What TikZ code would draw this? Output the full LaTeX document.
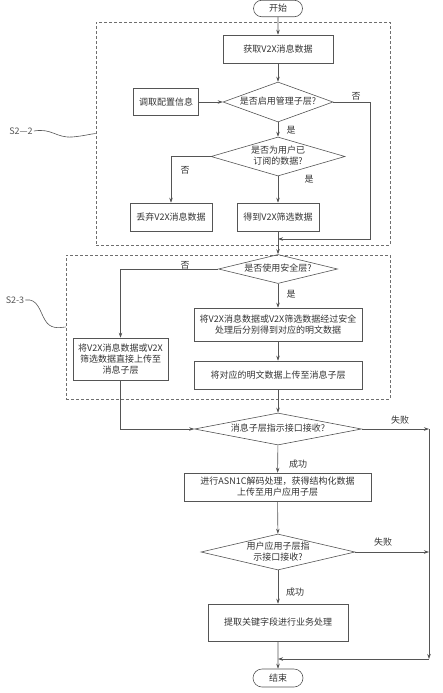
\documentclass[tikz,border=0pt]{standalone}
\usepackage{fontspec}
\setmainfont{Noto Sans CJK SC}
\usetikzlibrary{shapes.geometric,shapes.misc,arrows.meta}
\definecolor{lc}{HTML}{555555}
\definecolor{tc}{HTML}{333333}
\newcommand{\dtxt}[1]{\raisebox{-0.3em}[0pt][0pt]{\makebox[0pt]{\renewcommand{\arraystretch}{0.95}\begin{tabular}{@{}c@{}}#1\end{tabular}}}}
\begin{document}
\begin{tikzpicture}[x=1pt,y=-1pt,font=\fontsize{9}{11}\selectfont,text=tc,
  box/.style={draw=lc,line width=0.6pt,rectangle,inner sep=0pt,align=center},
  dec/.style={draw=lc,line width=0.6pt,diamond,inner sep=0pt,aspect=1},
  term/.style={draw=lc,line width=0.6pt,rounded rectangle,inner sep=0pt},
  arr/.style={draw=lc,line width=0.6pt,-{Stealth[length=5pt,width=3.5pt]}},
  conn/.style={draw=lc,line width=0.6pt},
  lab/.style={inner sep=1pt},
  grp/.style={draw=lc!85,line width=0.6pt,dash pattern=on 3pt off 2pt,rectangle,inner sep=0pt}]
\useasboundingbox (0,0) rectangle (443,693);
% groups
\node[grp,minimum width=294pt,minimum height=223pt] (g1) at (243,133.5) {};
\node[grp,minimum width=324pt,minimum height=144pt] (g2) at (228,327) {};
\node[lab,text=lc] (s22) at (21,131) {S2—2};
\node[lab,text=lc] (s23) at (15,300) {S2-3};
\draw[conn] (s22.east) .. controls (52,128) and (56,138) .. (72,137) .. controls (84,136) and (90,134) .. (g1.west);
\draw[conn] (s23.east) .. controls (38,298) and (40,312) .. (45,320) .. controls (50,329) and (58,328) .. (g2.west);
% nodes
\node[term,minimum width=49pt,minimum height=16.5pt] (start) at (278,8.5) {开始};
\node[box,minimum width=110pt,minimum height=28pt] (get) at (278,49) {获取V2X消息数据};
\node[dec,minimum width=110pt,minimum height=40pt] (d1) at (278,102) {\dtxt{是否启用管理子层?}};
\node[box,minimum width=65pt,minimum height=27pt] (cfg) at (166,102) {调取配置信息};
\node[dec,minimum width=134pt,minimum height=39pt] (d2) at (278,156.5) {\dtxt{是否为用户已\\订阅的数据?}};
\node[box,minimum width=82pt,minimum height=28pt] (drop) at (171,217) {丢弃V2X消息数据};
\node[box,minimum width=82pt,minimum height=28pt] (filt) at (278,217) {得到V2X筛选数据};
\node[dec,minimum width=119pt,minimum height=29pt] (d3) at (278,269) {\dtxt{是否使用安全层?}};
\node[box,minimum width=168pt,minimum height=33pt] (sec) at (278,324.5) {将V2X消息数据或V2X筛选数据经过安全\\处理后分别得到对应的明文数据};
\node[box,minimum width=168pt,minimum height=28pt] (up) at (278,375) {将对应的明文数据上传至消息子层};
\node[box,minimum width=95pt,minimum height=42pt] (direct) at (120.5,359) {将V2X消息数据或V2X\\筛选数据直接上传至\\消息子层};
\node[dec,minimum width=167pt,minimum height=32pt] (d4) at (278,429) {\dtxt{消息子层指示接口接收?}};
\node[box,minimum width=187pt,minimum height=28pt] (asn) at (277.5,487) {进行ASN1C解码处理，获得结构化数据\\上传至用户应用子层};
\node[dec,minimum width=154pt,minimum height=36pt] (d5) at (278,552) {\dtxt{用户应用子层指\\示接口接收?}};
\node[box,minimum width=140pt,minimum height=37pt] (key) at (278,622.5) {提取关键字段进行业务处理};
\node[term,minimum width=50pt,minimum height=18pt] (end) at (278,678) {结束};
% coordinates
\coordinate (r1) at (370,239);
\coordinate (j1) at (278,239);
\coordinate (r2) at (429,429);
\coordinate (r5) at (429,552);
\coordinate (r3) at (429,659);
\coordinate (j2) at (278,659);
% connectors
\draw[arr] (start) -- (get);
\draw[arr] (get) -- (d1);
\draw[arr] (cfg) -- (d1);
\draw[arr] (d1) -- (d2);
\draw[arr] (d2.west) -| (drop.north);
\draw[arr] (d2) -- (filt);
\draw[arr] (d1.east) -| (r1) -- (j1);
\draw[arr] (filt) -- (d3);
\draw[arr] (d3.west) -| (direct.north);
\draw[arr] (d3) -- (sec);
\draw[arr] (sec) -- (up);
\draw[arr] (up) -- (d4);
\draw[arr] (direct.south) |- (d4.west);
\draw[arr] (d4.east) -- (r2);
\draw[arr] (r2) -- (r3);
\draw[arr] (d5.east) -- (r5);
\draw[arr] (r3) -- (j2);
\draw[arr] (d4) -- (asn);
\draw[arr] (asn) -- (d5);
\draw[arr] (d5) -- (key);
\draw[arr] (key) -- (end);
% labels
\node[lab] (l1) at (356,96) {否};
\node[lab] (l2) at (291,130) {是};
\node[lab] (l3) at (185,170) {否};
\node[lab] (l4) at (309,179) {是};
\node[lab] (l5) at (185,265) {否};
\node[lab] (l6) at (291,294) {是};
\node[lab] (l7) at (400,420) {失败};
\node[lab] (l8) at (298,464) {成功};
\node[lab] (l9) at (383,542) {失败};
\node[lab] (l10) at (295,592) {成功};
\end{tikzpicture}
\end{document}
